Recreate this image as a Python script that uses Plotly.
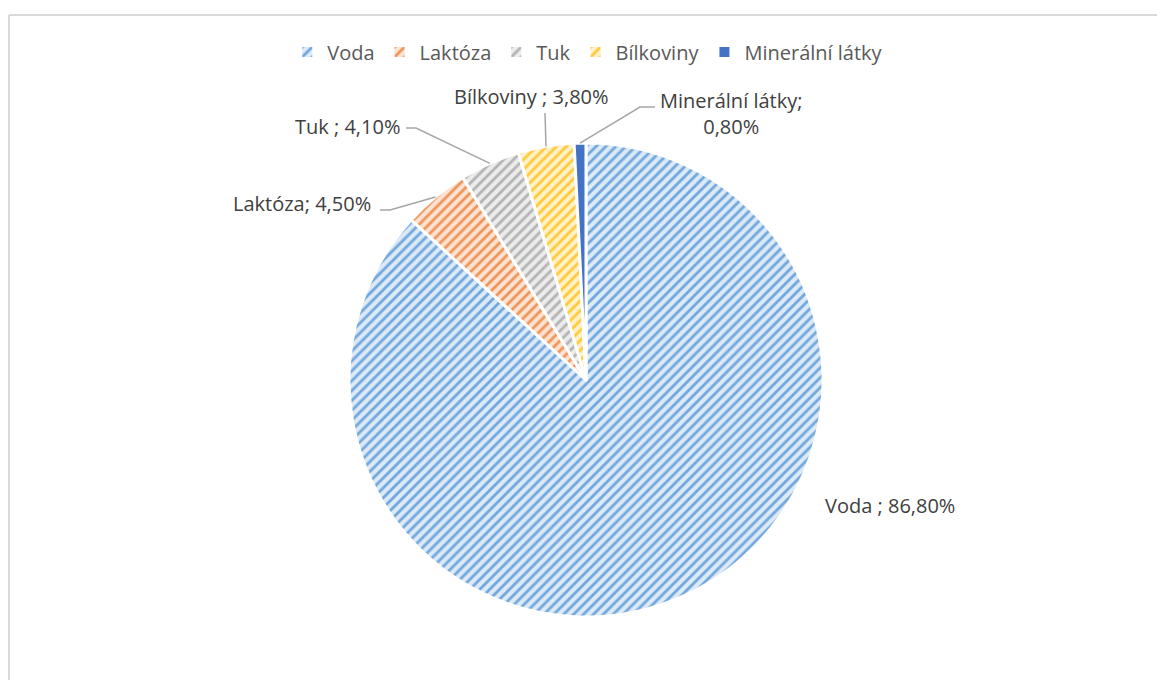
import math
import plotly.graph_objects as go

labels = ["Voda", "Laktóza", "Tuk", "Bílkoviny", "Minerální látky"]
values = [86.8, 4.5, 4.1, 3.8, 0.8]
label_texts = ["Voda ; 86,80%", "Laktóza; 4,50%", "Tuk ; 4,10%", "Bílkoviny ; 3,80%", "Minerální látky;<br>0,80%"]

fg_colors = ["#72A8DD", "#F09458", "#B4B4B4", "#FFC93A", "#4472C4"]
bg_colors = ["#DCE9F6", "#FBE3D3", "#ECECEC", "#FFF1C8", "#4472C4"]
shapes_pat = ["/", "/", "/", "/", ""]

W, H = 1157, 680
CX, CY, R = 586, 380, 237
FONT = "Open Sans, Liberation Sans, sans-serif"

def px(x):
    return x / W

def py(y):
    return 1 - y / H

fig = go.Figure()
fig.add_trace(go.Pie(
    labels=labels, values=values, sort=False, direction="clockwise", rotation=0,
    textinfo="none", hoverinfo="label+percent",
    marker=dict(
        colors=bg_colors,
        line=dict(color="white", width=3),
        pattern=dict(shape=shapes_pat, fgcolor=fg_colors, bgcolor=bg_colors,
                     size=7, solidity=0.4, fillmode="replace"),
    ),
    domain=dict(x=[px(CX - R), px(CX + R)], y=[py(CY + R), py(CY - R)]),
))

# label anchor positions (pixels) and leader line elbows
label_pos = [(890, 505, "center"), (373, 203, "right"), (402, 126, "right"), (531, 97, "center"), (731, 114, "center")]
elbows = [None, (390, 210), (416, 128), (545, 113), (640, 107)]
ends = [None, (380, 210), (406, 128), (545, 113), (655, 107)]

total = sum(values)
cum = 0
shapes = []
annotations = []
for i, v in enumerate(values):
    mid = (cum + v / 2) / total * 2 * math.pi
    cum += v
    sx = CX + R * math.sin(mid)
    sy = CY - R * math.cos(mid)
    lx, ly, al = label_pos[i]
    annotations.append(dict(
        x=px(lx), y=py(ly), xref="paper", yref="paper", text=label_texts[i],
        showarrow=False, xanchor=al, yanchor="middle", align="center",
        font=dict(family=FONT, size=20, color="#404040"),
    ))
    if elbows[i] is not None:
        ex, ey = elbows[i]
        tx, ty = ends[i]
        shapes.append(dict(
            type="path", xref="paper", yref="paper",
            path=f"M {px(sx)} {py(sy)} L {px(ex)} {py(ey)} L {px(tx)} {py(ty)}",
            line=dict(color="#A6A6A6", width=1.5),
        ))

# chart frame
shapes.append(dict(type="line", xref="paper", yref="paper", x0=px(9), x1=1, y0=py(15), y1=py(15),
                   line=dict(color="#D9D9D9", width=2)))
shapes.append(dict(type="line", xref="paper", yref="paper", x0=px(9), x1=px(9), y0=0, y1=py(15),
                   line=dict(color="#D9D9D9", width=2)))

fig.update_layout(
    width=W, height=H,
    margin=dict(l=0, r=0, t=0, b=0),
    paper_bgcolor="white", plot_bgcolor="white",
    showlegend=True,
    legend=dict(orientation="h", x=0.508, xanchor="center", y=py(52), yanchor="middle",
                font=dict(family=FONT, size=20, color="#595959"),
                itemsizing="constant"),
    shapes=shapes,
    annotations=annotations,
)

fig.write_html("out.html")
